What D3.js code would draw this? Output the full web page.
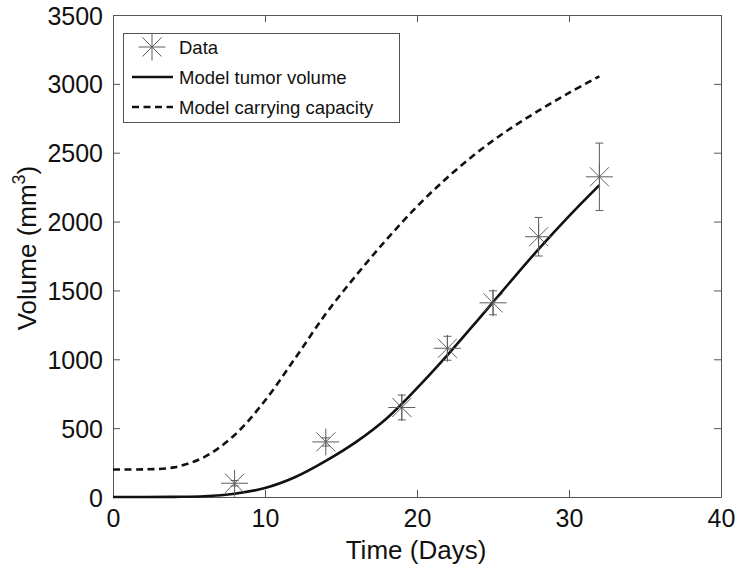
<!DOCTYPE html>
<html>
<head>
<meta charset="utf-8">
<script src="https://cdn.jsdelivr.net/npm/d3@7"></script>
<style>
  html, body { margin: 0; padding: 0; background: #fff; }
  svg { display: block; font-family: "Liberation Sans", Arial, Helvetica, sans-serif; }
</style>
</head>
<body>
<svg id="chart" width="742" height="576"></svg>
<script>
// ---- Data ----
const dataDays = [8, 14, 19, 22, 25, 28, 32];
const dataVolume = [100, 400, 650, 1080, 1410, 1890, 2325];
const dataError = [20, 30, 90, 87, 87, 140, 245];

const modelDays = [0, 2, 4, 6, 8, 10, 12, 14, 16, 18, 20, 22, 24, 26, 28, 30, 32];
const tumorVolume = [0, 0, 1, 5, 24, 65, 145, 262, 400, 570, 790, 1030, 1285, 1545, 1800, 2040, 2265];
const carryingCapacity = [200, 201, 215, 290, 450, 700, 1010, 1330, 1610, 1870, 2110, 2320, 2505, 2665, 2805, 2935, 3055];

const xTicks = [0, 10, 20, 30, 40];
const yTicks = [0, 500, 1000, 1500, 2000, 2500, 3000, 3500];

const legendLabels = ["Data", "Model tumor volume", "Model carrying capacity"];

// ---- Layout ----
const svg = d3.select("#chart");
const pLeft = 113, pRight = 721, pTop = 15, pBottom = 497;
const x = d3.scaleLinear().domain([0, 40]).range([pLeft, pRight]);
const y = d3.scaleLinear().domain([0, 3500]).range([pBottom, pTop]);
const axisColor = "#555";
const markColor = "#5e5e5e";
const fmt = d3.format("d");

// Axes (ticks inward, mirrored box)
const tickLen = 7;
const gx = svg.append("g").attr("transform", `translate(0,${pBottom})`)
  .call(d3.axisBottom(x).tickValues(xTicks).tickFormat(fmt).tickSizeInner(-tickLen).tickSizeOuter(0).tickPadding(12));
const gxTop = svg.append("g").attr("transform", `translate(0,${pTop})`)
  .call(d3.axisTop(x).tickValues(xTicks).tickSizeInner(-tickLen).tickSizeOuter(0).tickFormat(""));
const gy = svg.append("g").attr("transform", `translate(${pLeft},0)`)
  .call(d3.axisLeft(y).tickValues(yTicks).tickFormat(fmt).tickSizeInner(-tickLen).tickSizeOuter(0).tickPadding(10));
const gyR = svg.append("g").attr("transform", `translate(${pRight},0)`)
  .call(d3.axisRight(y).tickValues(yTicks).tickSizeInner(-tickLen).tickSizeOuter(0).tickFormat(""));

[gx, gxTop, gy, gyR].forEach(g => {
  g.selectAll("path.domain").attr("stroke", axisColor).attr("stroke-width", 1);
  g.selectAll(".tick line").attr("stroke", axisColor).attr("stroke-width", 1);
  g.selectAll(".tick text").attr("fill", "#111").style("font-size", "25px")
    .style("font-family", '"Liberation Sans", Arial, Helvetica, sans-serif');
});
gx.selectAll(".tick text").attr("dy", "0.71em").attr("y", 12);
gy.selectAll(".tick text").attr("dy", "0.36em").attr("x", -10);

// Axis labels
svg.append("text")
  .attr("x", (pLeft + pRight) / 2 - 1).attr("y", 559)
  .attr("text-anchor", "middle").attr("fill", "#111")
  .style("font-size", "26px")
  .text("Time (Days)");

const yl = svg.append("text")
  .attr("transform", `translate(36,${(pTop + pBottom) / 2 - 8}) rotate(-90)`)
  .attr("text-anchor", "middle").attr("fill", "#111")
  .style("font-size", "26px");
yl.append("tspan").text("Volume (mm");
yl.append("tspan").attr("dy", -11).style("font-size", "18px").text("3");
yl.append("tspan").attr("dy", 11).text(")");

// Model lines
const line = d3.line().x(d => x(d[0])).y(d => y(Math.max(0, d[1]))).curve(d3.curveCatmullRom.alpha(0.5));
svg.append("path")
  .datum(modelDays.map((d, i) => [d, carryingCapacity[i]]))
  .attr("d", line).attr("fill", "none").attr("stroke", "#111")
  .attr("stroke-width", 2.6).attr("stroke-dasharray", "7,4.5");
svg.append("path")
  .datum(modelDays.map((d, i) => [d, tumorVolume[i]]))
  .attr("d", line).attr("fill", "none").attr("stroke", "#111")
  .attr("stroke-width", 2.6);

// Star marker
function star(g, cx, cy, r) {
  const dr = r * Math.SQRT1_2;
  const segs = [[-r, 0, r, 0], [0, -r, 0, r], [-dr, -dr, dr, dr], [-dr, dr, dr, -dr]];
  segs.forEach(s => g.append("line")
    .attr("x1", cx + s[0]).attr("y1", cy + s[1]).attr("x2", cx + s[2]).attr("y2", cy + s[3])
    .attr("stroke", markColor).attr("stroke-width", 1));
}

// Error bars + data stars
const dg = svg.append("g");
dataDays.forEach((d, i) => {
  const cx = x(d), cy = y(dataVolume[i]);
  const y1 = y(dataVolume[i] + dataError[i]), y2 = y(dataVolume[i] - dataError[i]);
  dg.append("line").attr("x1", cx).attr("x2", cx).attr("y1", y1).attr("y2", y2)
    .attr("stroke", markColor).attr("stroke-width", 1);
  [y1, y2].forEach(yy => dg.append("line").attr("x1", cx - 4).attr("x2", cx + 4)
    .attr("y1", yy).attr("y2", yy).attr("stroke", markColor).attr("stroke-width", 1));
  star(dg, cx, cy, 13.5);
});

// Legend
const lg = svg.append("g");
lg.append("rect").attr("x", 123.5).attr("y", 33.5).attr("width", 276).attr("height", 89)
  .attr("fill", "#fff").attr("stroke", axisColor).attr("stroke-width", 1);
const rows = [47, 77, 107];
star(lg, 152, rows[0], 13.5);
lg.append("line").attr("x1", 132).attr("x2", 173).attr("y1", rows[1]).attr("y2", rows[1])
  .attr("stroke", "#111").attr("stroke-width", 2.6);
lg.append("line").attr("x1", 132).attr("x2", 173).attr("y1", rows[2]).attr("y2", rows[2])
  .attr("stroke", "#111").attr("stroke-width", 2.6).attr("stroke-dasharray", "7,4.5");
legendLabels.forEach((t, i) => {
  lg.append("text").attr("x", 179).attr("y", rows[i] + 7)
    .attr("fill", "#111").style("font-size", "18.5px").text(t);
});
</script>
</body>
</html>
